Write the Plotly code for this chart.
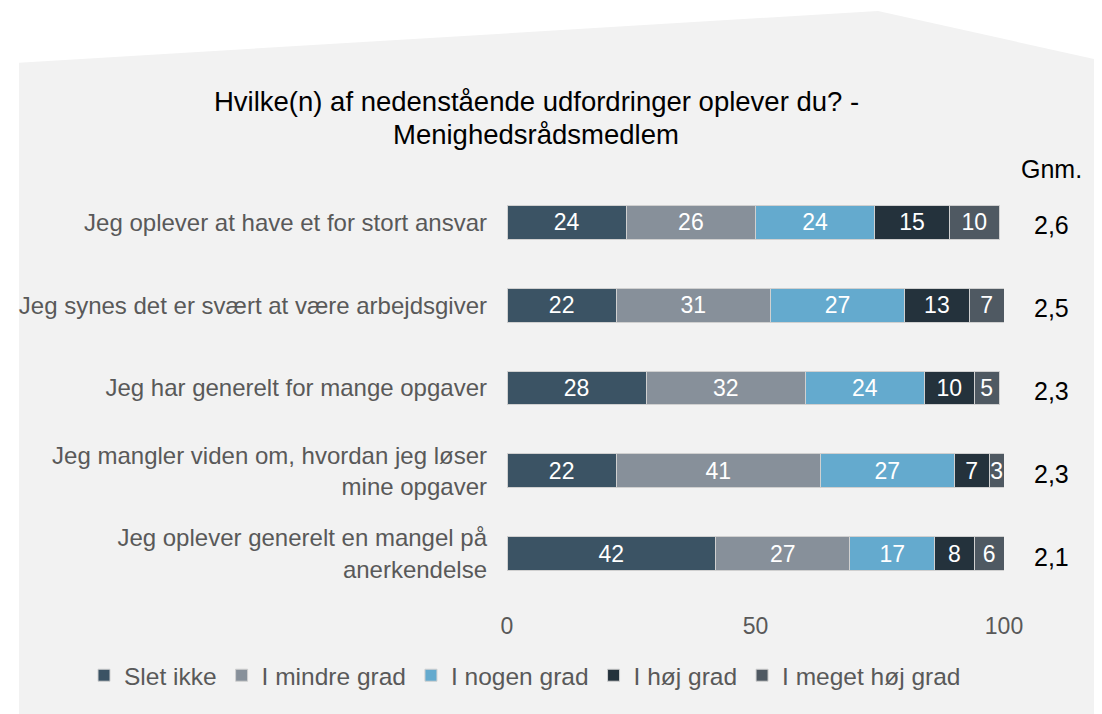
import plotly.graph_objects as go

categories = [
    "Jeg oplever at have et for stort ansvar",
    "Jeg synes det er svært at være arbejdsgiver",
    "Jeg har generelt for mange opgaver",
    "Jeg mangler viden om, hvordan jeg løser<br>mine opgaver",
    "Jeg oplever generelt en mangel på<br>anerkendelse",
]
series_names = ["Slet ikke", "I mindre grad", "I nogen grad", "I høj grad", "I meget høj grad"]
slet_ikke = [24, 22, 28, 22, 42]
mindre_grad = [26, 31, 32, 41, 27]
nogen_grad = [24, 27, 24, 27, 17]
hoej_grad = [15, 13, 10, 7, 8]
meget_hoej_grad = [10, 7, 5, 3, 6]
gnm = ["2,6", "2,5", "2,3", "2,3", "2,1"]
x_ticks = [0, 50, 100]
title_lines = ["Hvilke(n) af nedenstående udfordringer oplever du? -", "Menighedsrådsmedlem"]

colors = ["#3B5364", "#87909A", "#64AACE", "#24323C", "#4F5962"]
series = [slet_ikke, mindre_grad, nogen_grad, hoej_grad, meget_hoej_grad]

FONT = "Liberation Sans, Arial, sans-serif"
W, H = 1102, 714
OFF = 8  # page body margin
L, R, T, B = 507 - OFF, 1004 - OFF, 180.5 - OFF, 595.5 - OFF


def pxx(px):
    return (px - OFF - L) / (R - L)


def pxy(py):
    return (B - (py - OFF)) / (B - T)


fig = go.Figure()
for name, vals, col in zip(series_names, series, colors):
    fig.add_trace(go.Bar(
        y=categories, x=vals, name=name, orientation="h",
        marker=dict(color=col, line=dict(color="#D0D0D0", width=1)),
        text=[str(v) for v in vals], textposition="inside",
        insidetextanchor="middle", constraintext="none", textangle=0,
        textfont=dict(color="white", size=23, family=FONT),
        hoverinfo="skip",
    ))

# gridlines
for t in x_ticks:
    fig.add_shape(type="line", x0=t, x1=t, xref="x", y0=0, y1=1, yref="paper",
                  line=dict(color="#D9D9D9", width=2), layer="below")

# Gnm column
fig.add_annotation(x=pxx(1051), y=pxy(168), xref="paper", yref="paper", text="Gnm.",
                   showarrow=False, xanchor="center", yanchor="middle",
                   font=dict(size=25, color="#000000", family=FONT))
for c, g in zip(categories, gnm):
    fig.add_annotation(x=pxx(1051), y=c, xref="paper", yref="y", text=g, showarrow=False,
                       xanchor="center", yanchor="middle", yshift=-3,
                       font=dict(size=25, color="#000000", family=FONT))

# title as two lines
for line, ypx in zip(title_lines, [100.5, 133.5]):
    fig.add_annotation(x=pxx(536), y=pxy(ypx), xref="paper", yref="paper", text=line,
                       showarrow=False, xanchor="center", yanchor="middle",
                       font=dict(size=27.5, color="#000000", family=FONT))

# background shape
pts = [(19, 730), (19, 62), (878, 10), (1102, 60), (1120, 60), (1120, 730)]
path = ""
for i, (px, py) in enumerate(pts):
    path += ("M" if i == 0 else "L") + f"{pxx(px):.5f},{pxy(py):.5f} "
path += "Z"
fig.add_shape(type="path", path=path, xref="paper", yref="paper",
              fillcolor="#F2F2F2", line=dict(width=0), layer="below")

fig.update_layout(
    width=W, height=H,
    barmode="stack", bargap=0.59,
    paper_bgcolor="white", plot_bgcolor="rgba(0,0,0,0)",
    margin=dict(l=L, r=W - R, t=T, b=H - B, pad=0),
    font=dict(family=FONT, color="#595959"),
    xaxis=dict(range=[0, 100], tickvals=x_ticks, showgrid=False, zeroline=False,
               showline=False, ticks="",
               tickfont=dict(size=23, color="#595959"), ticklabelstandoff=15),
    yaxis=dict(autorange="reversed", showgrid=False, ticks="", showline=False,
               tickfont=dict(size=24, color="#595959"), ticklabelstandoff=19),
    legend=dict(orientation="h", x=(76 - L) / (R - L), xanchor="left",
                y=pxy(676), yanchor="middle",
                font=dict(size=24.5, color="#595959"), itemwidth=30,
                bgcolor="rgba(0,0,0,0)", traceorder="normal"),
    showlegend=True,
)

fig.write_html("out.html")
